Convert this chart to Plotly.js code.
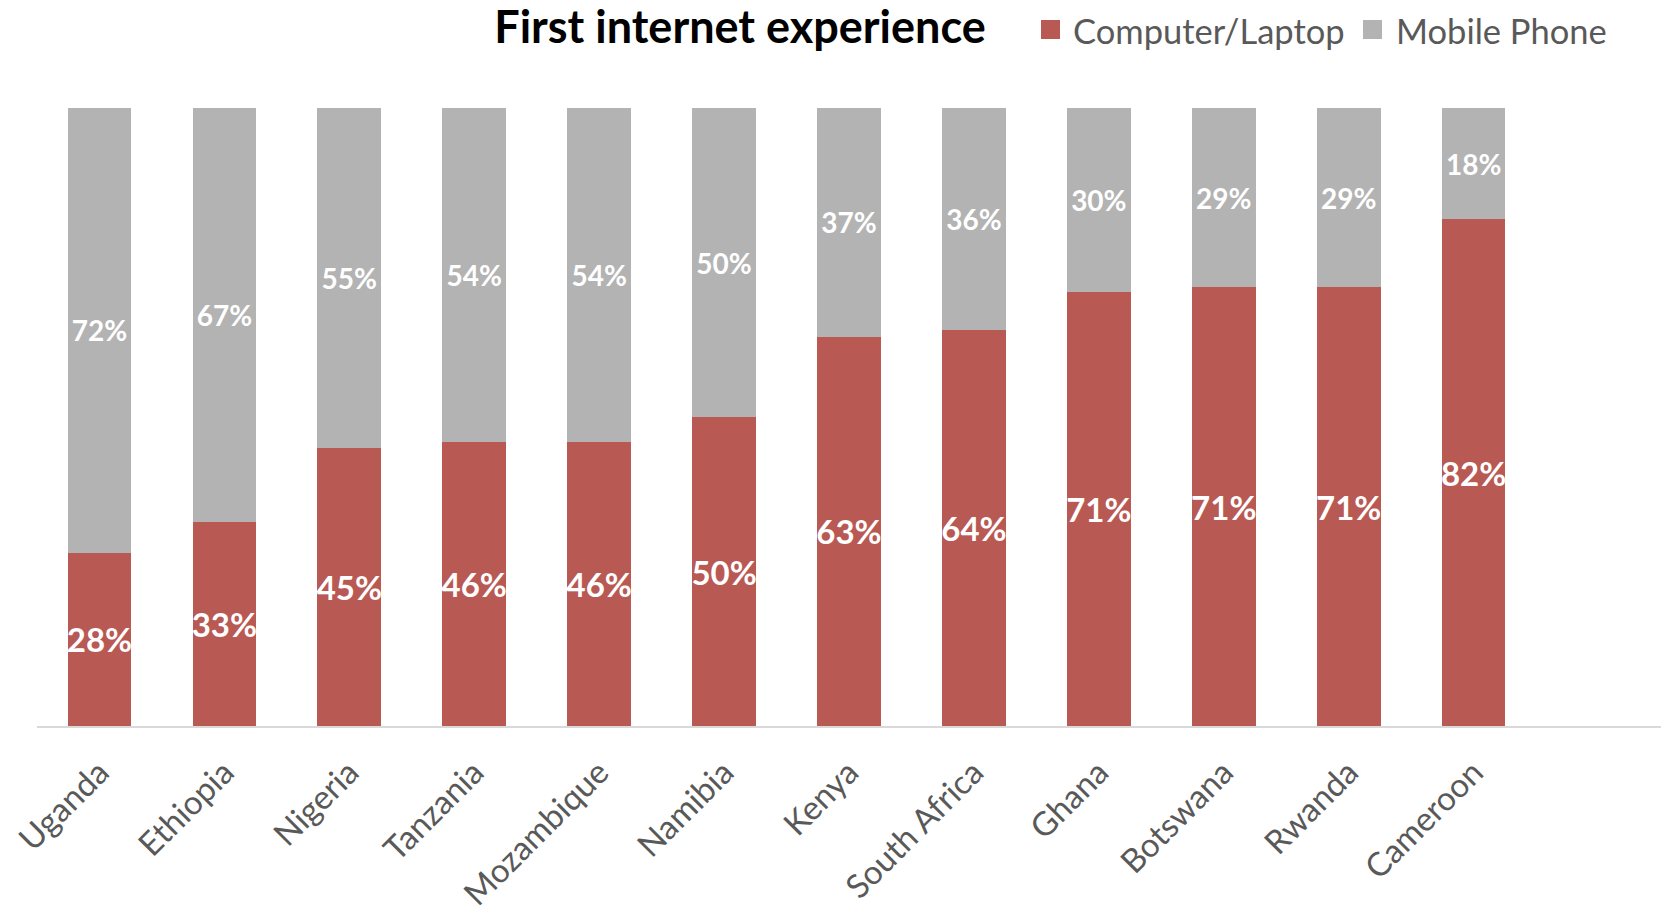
<!DOCTYPE html>
<html><head><meta charset="utf-8">
<script src="https://cdn.plot.ly/plotly-3.0.1.min.js"></script>
<style>html,body{margin:0;padding:0;background:#fff}#chart{width:1666px;height:916px}</style>
</head><body><div id="chart"></div>
<script>
const countries = ["Uganda","Ethiopia","Nigeria","Tanzania","Mozambique","Namibia","Kenya","South Africa","Ghana","Botswana","Rwanda","Cameroon"];
const computerLaptop = [28,33,45,46,46,50,63,64,71,71,71,82];
const mobilePhone = [72,67,55,54,54,50,37,36,30,29,29,18];
const seriesNames = ["Computer/Laptop","Mobile Phone"];
const colors = ["#B95953","#B3B3B3"];
const FONT = "Lato, 'Open Sans', sans-serif";

const pct = v => v.map(x => x + "%");
const traces = [
  {type:"bar", name:seriesNames[0], x:countries, y:computerLaptop, text:pct(computerLaptop),
   marker:{color:colors[0]}, textposition:"inside", insidetextanchor:"middle", textangle:0,
   constraintext:"none", textfont:{family:FONT, size:33, color:"#fff", weight:"bold"}, hoverinfo:"skip", showlegend:false},
  {type:"bar", name:seriesNames[1], x:countries, y:mobilePhone, text:pct(mobilePhone),
   marker:{color:colors[1]}, textposition:"inside", insidetextanchor:"middle", textangle:0,
   constraintext:"none", textfont:{family:FONT, size:28, color:"#fff", weight:"bold"}, hoverinfo:"skip", showlegend:false}
];

const W=1666,H=916;
const legendItems = [
  {sq:[1041,1060], tx:1071, label:seriesNames[0], color:colors[0]},
  {sq:[1363,1382], tx:1394, label:seriesNames[1], color:colors[1]}
];
const shapes = legendItems.map(it => ({type:"rect", xref:"paper", yref:"paper",
  x0:(it.sq[0]-37)/(W-37-5), x1:(it.sq[1]-37)/(W-37-5),
  y0:1+(108-20)/(H-108-190), y1:1+(108-39)/(H-108-190),
  fillcolor:it.color, line:{width:0}}));
const annotations = legendItems.map(it => ({xref:"paper", yref:"paper",
  x:(it.tx-37)/(W-37-5), y:1+(108-31)/(H-108-190), xanchor:"left", yanchor:"middle",
  text:it.label, showarrow:false, font:{family:FONT, size:34.5, color:"#595959"}}));

const layout = {
  width:W, height:H,
  margin:{l:37, r:5, t:108, b:190},
  paper_bgcolor:"#fff", plot_bgcolor:"#fff",
  barmode:"stack", barnorm:"percent", bargap:0.49,
  showlegend:false,
  title:{text:"<b>First internet experience</b>", x:740/W, xref:"container", xanchor:"center",
         y:1-27/H, yref:"container", yanchor:"middle", font:{family:FONT, size:45, color:"#000"}},
  xaxis:{type:"category", range:[-0.5,12.5], tickangle:-45, showline:true, linecolor:"#D9D9D9", linewidth:2,
         showgrid:false, ticks:"", ticklabelstandoff:12, tickfont:{family:FONT, size:33, color:"#595959"}, fixedrange:true},
  yaxis:{range:[0,100], visible:false, fixedrange:true},
  shapes:shapes, annotations:annotations
};
Plotly.newPlot("chart", traces, layout, {displayModeBar:false, staticPlot:true});
</script></body></html>
